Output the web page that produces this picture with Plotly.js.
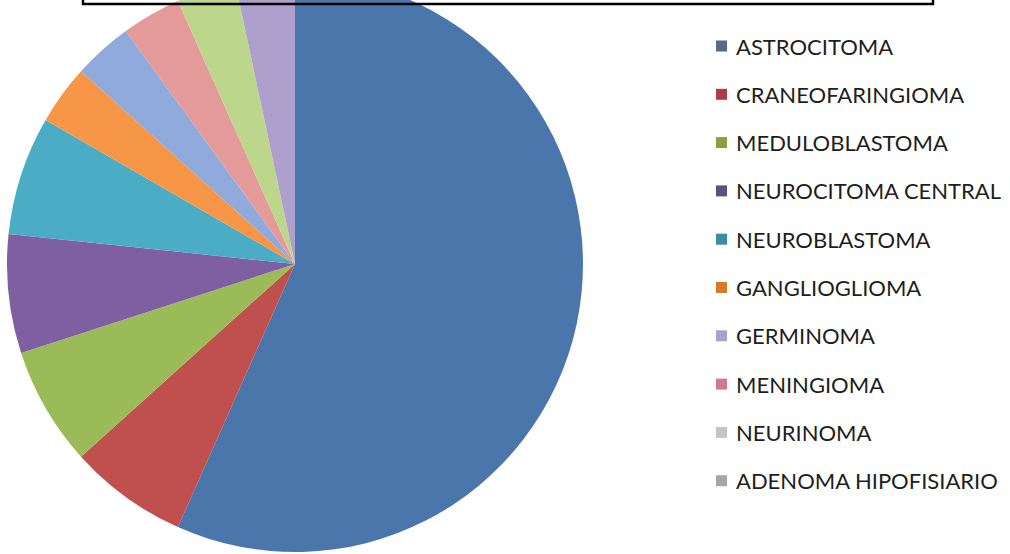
<!DOCTYPE html>
<html>
<head>
<meta charset="utf-8">
<script src="https://cdn.plot.ly/plotly-3.0.1.min.js"></script>
<style>
  html, body { margin: 0; padding: 0; background: #ffffff; overflow: hidden; width: 1010px; height: 554px; }
  #chart { position: absolute; left: 0; top: -36px; width: 1010px; height: 600px; }
</style>
</head>
<body>
<div id="chart"></div>
<script>
// Tumour types and case counts
const categories = [
  "ASTROCITOMA",
  "CRANEOFARINGIOMA",
  "MEDULOBLASTOMA",
  "NEUROCITOMA CENTRAL",
  "NEUROBLASTOMA",
  "GANGLIOGLIOMA",
  "GERMINOMA",
  "MENINGIOMA",
  "NEURINOMA",
  "ADENOMA HIPOFISIARIO"
];
const cases = [17, 2, 2, 2, 2, 1, 1, 1, 1, 1];
const sliceColors = [
  "#4A76AC", "#C0504D", "#9BBB59", "#7E5FA1", "#4BACC6",
  "#F79646", "#8FAADB", "#E39A99", "#BCD68C", "#AEA0CC"
];
// Key swatches (printed in muted tones)
const swatchColors = [
  "#56698A", "#B03B48", "#8E9E42", "#5F5080", "#3A8C9E",
  "#D8782C", "#A2A4C8", "#D27A90", "#C4C4C4", "#A6A6A6"
];

const W = 1010, H = 600, TOP = 36; // div size and upward shift

const pie = {
  type: "pie",
  labels: categories,
  values: cases,
  sort: false,
  direction: "clockwise",
  rotation: 0,
  textinfo: "none",
  hoverinfo: "label+value+percent",
  marker: { colors: sliceColors, line: { width: 0 } },
  domain: { x: [7 / W, 583 / W], y: [0.02, 0.98] },
  showlegend: false
};

// Key: coloured squares with labels beside them
const legendTop = 46, legendStep = 48.3;
const shapes = [];
const annotations = [];
categories.forEach((name, i) => {
  const yc = legendTop + i * legendStep + TOP;
  shapes.push({
    type: "rect", xref: "paper", yref: "paper",
    x0: 716 / W, x1: 727 / W,
    y0: 1 - (yc + 5.5) / H, y1: 1 - (yc - 5.5) / H,
    fillcolor: swatchColors[i], line: { width: 0 }
  });
  annotations.push({
    xref: "paper", yref: "paper",
    x: 734 / W, y: 1 - yc / H,
    xanchor: "left", yanchor: "middle",
    text: name, showarrow: false,
    font: { family: "Lato, 'Open Sans', sans-serif", size: 22, color: "#1e1e1e" }
  });
});

// Frame of the title box across the top
shapes.push({
  type: "rect", xref: "paper", yref: "paper",
  x0: 83 / W, x1: 933 / W,
  y0: 1 - (4 + TOP) / H, y1: 1 - (-30 + TOP) / H,
  fillcolor: "rgba(0,0,0,0)", line: { color: "#000000", width: 2.5 }
});

const layout = {
  width: W, height: H,
  margin: { l: 0, r: 0, t: 0, b: 0 },
  paper_bgcolor: "#ffffff",
  showlegend: false,
  shapes: shapes,
  annotations: annotations
};

Plotly.newPlot("chart", [pie], layout, { displayModeBar: false, staticPlot: true });
</script>
</body>
</html>
